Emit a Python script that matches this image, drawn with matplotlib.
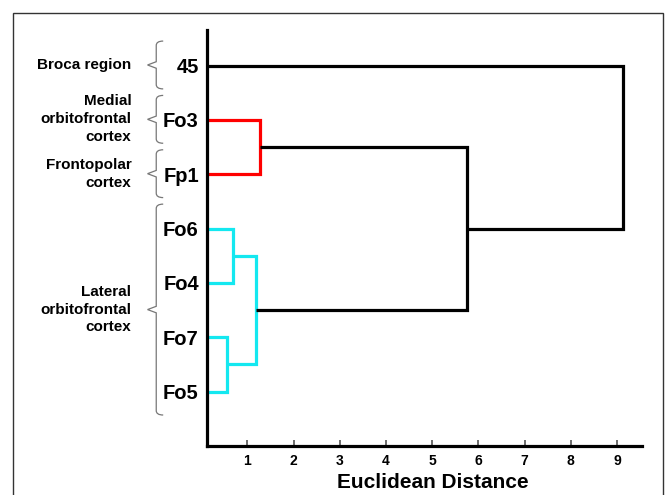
import matplotlib
matplotlib.use('Agg')
import matplotlib.pyplot as plt
from matplotlib.patches import Rectangle
from matplotlib.path import Path
from matplotlib.patches import PathPatch
import matplotlib.transforms as mtransforms

plt.rcParams['font.family'] = ['Liberation Sans', 'DejaVu Sans']

# leaves from top to bottom
leaves = ['45', 'Fo3', 'Fp1', 'Fo6', 'Fo4', 'Fo7', 'Fo5']
# merges: (child a, child b, distance, colour); new clusters get ids 7, 8, ...
merges = [
    ('Fo7', 'Fo5', 0.57, '#14e8f0'),
    ('Fo6', 'Fo4', 0.70, '#14e8f0'),
    (8, 7, 1.18, '#14e8f0'),
    ('Fo3', 'Fp1', 1.28, '#ff0000'),
    (10, 9, 5.76, 'black'),
    ('45', 11, 9.13, 'black'),
]
groups = ['Broca region', 'Medial\norbitofrontal\ncortex', 'Frontopolar\ncortex',
          'Lateral\norbitofrontal\ncortex']
group_members = [['45'], ['Fo3'], ['Fp1'], ['Fo6', 'Fo4', 'Fo7', 'Fo5']]
xticks = [1, 2, 3, 4, 5, 6, 7, 8, 9]

fig = plt.figure(figsize=(6.66, 4.95), dpi=100)
ax = fig.add_axes([0.311, 0.099, 0.653, 0.840])

pos = {name: len(leaves) - i for i, name in enumerate(leaves)}
hgt = {name: 0.0 for name in leaves}
nid = len(leaves)
for a, b, d, c in merges:
    ya, yb = pos[a], pos[b]
    ax.plot([hgt[a], d, d, hgt[b]], [ya, ya, yb, yb], color=c, lw=2.3,
            solid_joinstyle='miter', solid_capstyle='butt')
    pos[nid] = (ya + yb) / 2
    hgt[nid] = d
    nid += 1

ax.set_xlim(0.13, 9.54)
ax.set_ylim(0, 7.65)
ax.set_xticks(xticks)
ax.set_xticklabels([str(t) for t in xticks], fontsize=10, fontweight='bold')
ax.tick_params(axis='x', direction='in', length=4, width=1.2, color='#555555', pad=6)
ax.set_yticks([pos[n] for n in leaves])
ax.set_yticklabels(leaves, fontsize=14.5, fontweight='bold')
ax.tick_params(axis='y', length=0, pad=6)
for s in ['top', 'right']:
    ax.spines[s].set_visible(False)
for s in ['left', 'bottom']:
    ax.spines[s].set_linewidth(2.3)
ax.set_xlabel('Euclidean Distance', fontsize=15, fontweight='bold')
ax.xaxis.set_label_coords(0.52, -0.066)

# curly braces and group names
trans = mtransforms.blended_transform_factory(ax.transAxes, ax.transData)
bx, tip, hook = -0.117, -0.137, -0.101
for name, members in zip(groups, group_members):
    ys = [pos[m] for m in members]
    top, bot = max(ys) + 0.45, min(ys) - 0.43
    mid = (top + bot) / 2
    verts = [(hook, top), (bx, top), (bx, top - 0.08),
             (bx, mid + 0.06), (tip, mid), (bx, mid - 0.06),
             (bx, bot + 0.08), (bx, bot), (hook, bot)]
    codes = [Path.MOVETO, Path.CURVE3, Path.CURVE3,
             Path.LINETO, Path.LINETO, Path.LINETO,
             Path.LINETO, Path.CURVE3, Path.CURVE3]
    ax.add_patch(PathPatch(Path(verts, codes), fill=False, edgecolor='#777777',
                           lw=0.9, transform=trans, clip_on=False))
    ax.text(-0.174, mid, name, transform=trans, ha='right', va='center',
            fontsize=11, fontweight='bold', linespacing=1.35, clip_on=False)

fig.patches.append(Rectangle((13 / 666, -0.02), 650 / 666, 1 - 13 / 495 + 0.02,
                             transform=fig.transFigure, fill=False,
                             edgecolor='#333333', lw=1.0))

fig.savefig('out.png', dpi=100)
